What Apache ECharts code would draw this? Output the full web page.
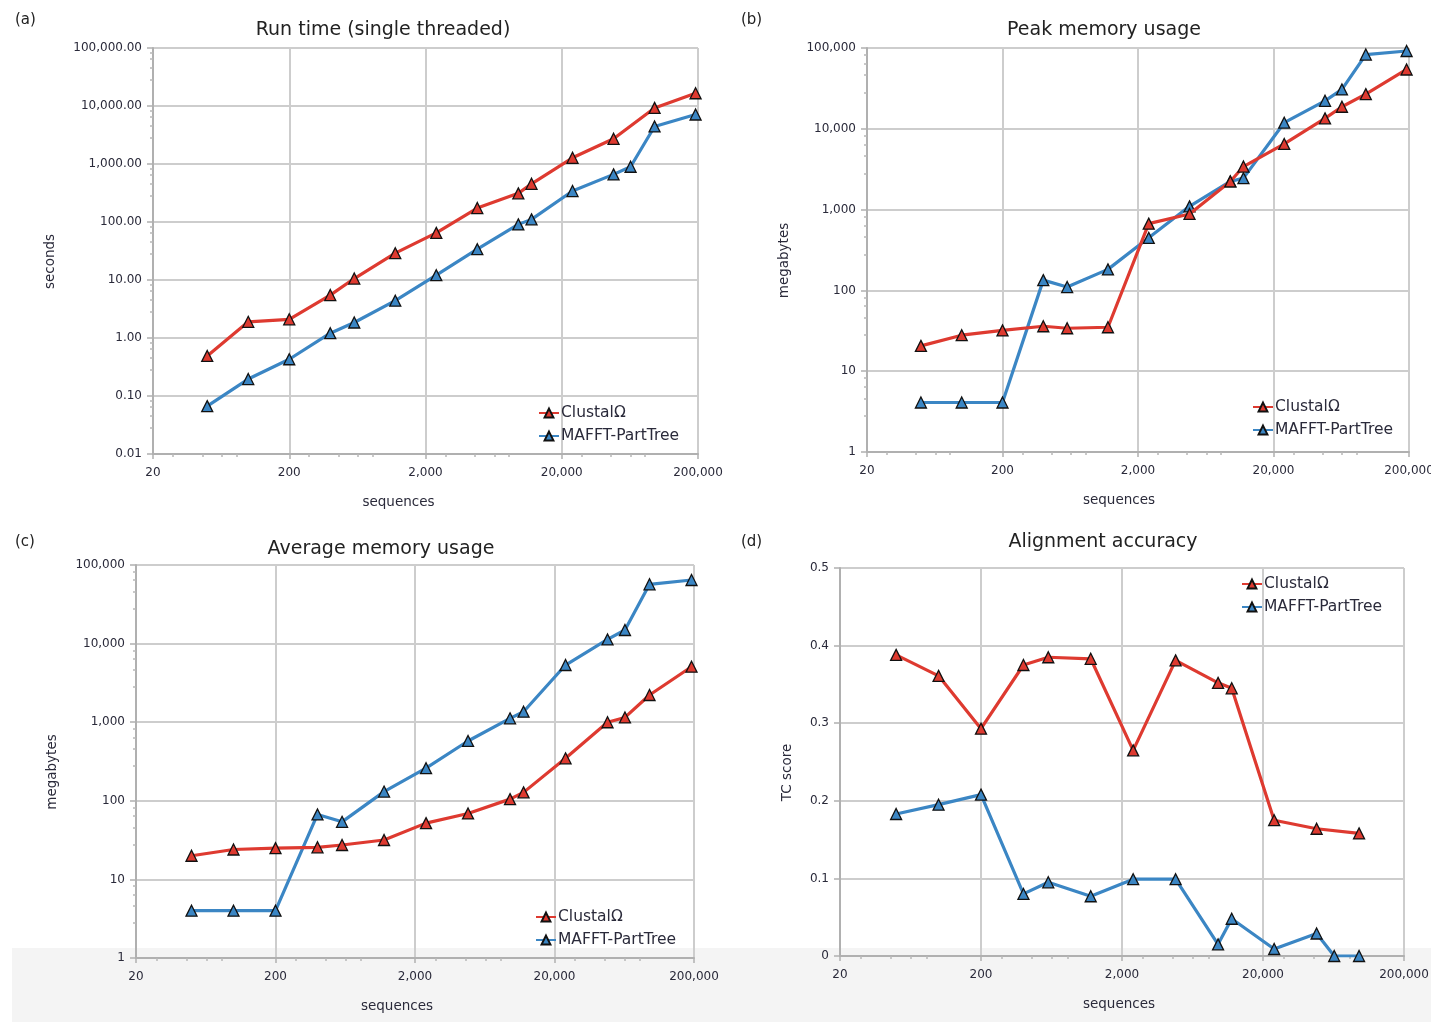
<!DOCTYPE html>
<html>
<head>
<meta charset="utf-8">
<script src="https://cdn.jsdelivr.net/npm/echarts@6/dist/echarts.min.js"></script>
<style>
html,body{margin:0;padding:0;background:#fff;}
#chart{width:1431px;height:1022px;}
</style>
</head>
<body>
<div id="chart"></div>
<script>
// ---- data ----
const sequences = [50, 100, 200, 400, 600, 1200, 2400, 4800, 9600, 12000, 24000, 48000, 64000, 96000, 192000];
const xTicks = [20, 200, 2000, 20000, 200000];
const seriesNames = ['ClustalΩ', 'MAFFT-PartTree'];

// (a) run time, seconds
const runClustal = [0.49, 1.9, 2.1, 5.5, 10.6, 29, 65, 174, 312, 456, 1280, 2720, null, 9270, 16600];
const runMafft   = [0.067, 0.196, 0.43, 1.21, 1.85, 4.4, 12.1, 34, 91, 111, 342, 662, 896, 4440, 7140];
const runTicks   = [0.01, 0.1, 1, 10, 100, 1000, 10000, 100000];

// (b) peak memory, megabytes
const peakClustal = [20.6, 27.9, 32, 36, 34, 35, 670, 883, 2230, 3410, 6500, 13460, 18750, 26850, 54200];
const peakMafft   = [4.1, 4.1, 4.1, 134, 110, 182, 447, 1097, 2230, 2450, 11900, 22200, 30700, 83000, 91800];
const memTicks    = [1, 10, 100, 1000, 10000, 100000];

// (c) average memory, megabytes
const avgClustal = [20, 24, 25, 25.6, 27.4, 31.7, 52, 69, 105, 128, 347, 998, 1150, 2220, 5080];
const avgMafft   = [4.0, 4.0, 4.0, 67, 54, 131, 260, 577, 1120, 1360, 5340, 11300, 14900, 56800, 64400];

// (d) alignment accuracy, TC score
const tcClustal = [0.388, 0.361, 0.293, 0.375, 0.385, 0.383, 0.265, 0.381, 0.352, 0.345, 0.175, 0.164, null, 0.158, null];
const tcMafft   = [0.183, 0.195, 0.208, 0.080, 0.095, 0.077, 0.099, 0.099, 0.015, 0.048, 0.009, 0.029, 0, 0, null];

// ---- styling ----
const RED = '#de3a30', BLUE = '#3b86c4';
const FONT = '"DejaVu Sans", Verdana, sans-serif';
const TXT = '#2a2a3a';

function pairs(vals){ return sequences.map((s,i)=>[s, vals[i]]).filter(p=>p[1]!==null && p[1]!==undefined); }
function fmtInt(v){ return Math.round(v).toLocaleString('en-US'); }
function fmt2(v){ return Number(v).toLocaleString('en-US',{minimumFractionDigits:2, maximumFractionDigits:2}); }

const grids = [
  {left:153, top:48, width:545, height:406, outerBoundsMode:'none', containLabel:false},
  {left:867, top:48, width:542, height:404, outerBoundsMode:'none', containLabel:false},
  {left:136, top:565, width:558, height:393, outerBoundsMode:'none', containLabel:false},
  {left:840, top:568, width:564, height:388, outerBoundsMode:'none', containLabel:false}
];

const MINOR = {show:true, splitNumber:5, length:3, lineStyle:{color:'#b8b8b8', width:1.5}};

function xAxis(i, padR){
  return {
    type:'log', logBase:10, min:20, max:200000, gridIndex:i,
    name:'sequences', nameLocation:'middle', nameGap:41,
    nameTextStyle:{fontFamily:FONT, fontSize:13.5, color:TXT, padding:[0, padR, 0, 0]},
    axisLine:{lineStyle:{color:'#b0b0b0', width:2}},
    axisTick:{customValues:xTicks, length:5, lineStyle:{color:'#b0b0b0', width:1.5}},
    minorTick:MINOR,
    axisLabel:{customValues:xTicks, formatter:fmtInt, fontFamily:FONT, fontSize:12, color:TXT, margin:13, hideOverlap:false},
    splitLine:{show:true, lineStyle:{color:'#cdcdcd', width:2}}
  };
}
function yLog(i, min, max, ticks, fmt, name, gap){
  return {
    type:'log', logBase:10, min:min, max:max, gridIndex:i,
    name:name, nameLocation:'middle', nameGap:gap,
    nameTextStyle:{fontFamily:FONT, fontSize:13.5, color:TXT, padding:[0, 21, 0, 0]},
    axisLine:{show:true, lineStyle:{color:'#b0b0b0', width:2}},
    axisTick:{show:true, customValues:ticks, length:6, lineStyle:{color:'#b0b0b0', width:1.5}},
    minorTick:MINOR,
    axisLabel:{customValues:ticks, formatter:fmt, fontFamily:FONT, fontSize:12, color:TXT, margin:11},
    splitLine:{show:true, lineStyle:{color:'#cdcdcd', width:2}}
  };
}

function mk(name, color, vals, i){
  return {
    type:'line', name:name, xAxisIndex:i, yAxisIndex:i,
    data:pairs(vals), symbol:'triangle', symbolSize:11,
    lineStyle:{color:color, width:3.2},
    itemStyle:{color:color, borderColor:'#111', borderWidth:1.3},
    z: color===BLUE ? 3 : 4,
    animation:false
  };
}

function legend(left, top){
  return {
    left:left, top:top, orient:'vertical', itemGap:7, itemWidth:20, itemHeight:11,
    data:seriesNames, textStyle:{fontFamily:FONT, fontSize:15.5, color:TXT, padding:[0,0,0,-3]}
  };
}

const TT = {fontFamily:FONT, fontSize:19, fontWeight:'normal', color:'#222'};
const LT = {fontFamily:FONT, fontSize:15, fontWeight:'normal', color:'#222'};

const option = {
  animation:false,
  backgroundColor:'#ffffff',
  graphic:[
    {type:'rect', z:-10, shape:{x:12, y:948, width:1419, height:74}, style:{fill:'#f4f4f4'}}
  ],
  title:[
    {text:'Run time (single threaded)', left:378, top:16, textAlign:'center', textStyle:TT},
    {text:'Peak memory usage', left:1099, top:16, textAlign:'center', textStyle:TT},
    {text:'Average memory usage', left:376, top:535, textAlign:'center', textStyle:TT},
    {text:'Alignment accuracy', left:1098, top:528, textAlign:'center', textStyle:TT},
    {text:'(a)', left:10, top:8, textStyle:LT},
    {text:'(b)', left:736, top:8, textStyle:LT},
    {text:'(c)', left:10, top:530, textStyle:LT},
    {text:'(d)', left:736, top:530, textStyle:LT}
  ],
  legend:[legend(533, 400), legend(1247, 394), legend(530, 904), legend(1236, 571)],
  grid:grids,
  xAxis:[xAxis(0, 54), xAxis(1, 38), xAxis(2, 36), xAxis(3, 6)],
  yAxis:[
    yLog(0, 0.01, 100000, runTicks, fmt2, 'seconds', 96),
    yLog(1, 1, 100000, memTicks, fmtInt, 'megabytes', 76),
    yLog(2, 1, 100000, memTicks, fmtInt, 'megabytes', 77),
    {
      type:'value', min:0, max:0.5, interval:0.1, gridIndex:3,
      name:'TC score', nameLocation:'middle', nameGap:46,
      nameTextStyle:{fontFamily:FONT, fontSize:13.5, color:TXT, padding:[0, 21, 0, 0]},
      axisLine:{show:true, lineStyle:{color:'#b0b0b0', width:2}},
      axisTick:{show:true, length:6, lineStyle:{color:'#b0b0b0', width:1.5}},
      axisLabel:{formatter:v=>String(Math.round(v*10)/10), fontFamily:FONT, fontSize:12, color:TXT, margin:11},
      splitLine:{show:true, lineStyle:{color:'#cdcdcd', width:2}}
    }
  ],
  series:[
    mk(seriesNames[1], BLUE, runMafft, 0), mk(seriesNames[0], RED, runClustal, 0),
    mk(seriesNames[1], BLUE, peakMafft, 1), mk(seriesNames[0], RED, peakClustal, 1),
    mk(seriesNames[1], BLUE, avgMafft, 2), mk(seriesNames[0], RED, avgClustal, 2),
    mk(seriesNames[1], BLUE, tcMafft, 3), mk(seriesNames[0], RED, tcClustal, 3)
  ]
};

const chart = echarts.init(document.getElementById('chart'), null, {renderer:'canvas'});
chart.setOption(option);
</script>
</body>
</html>
